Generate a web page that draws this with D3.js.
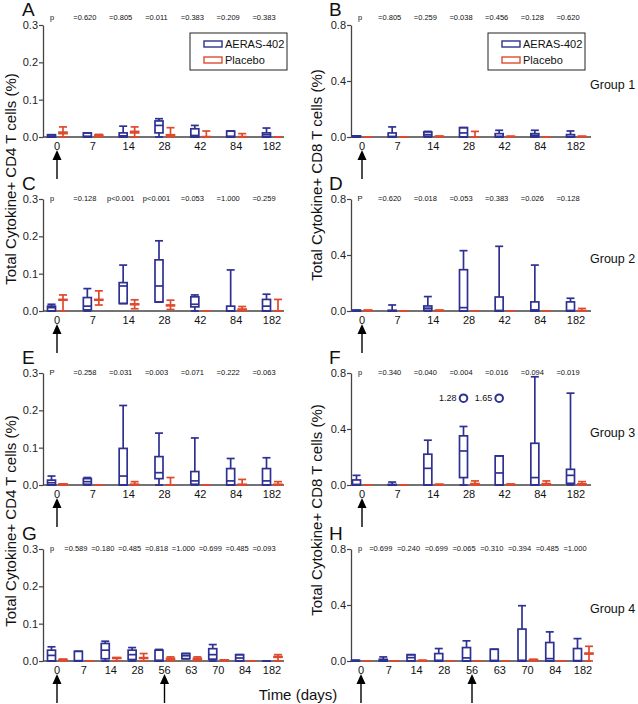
<!DOCTYPE html>
<html>
<head>
<meta charset="utf-8">
<script src="https://cdn.jsdelivr.net/npm/d3@7"></script>
<style>
  body { margin: 0; background: #fff; }
  svg text { font-family: "Liberation Sans", Arial, sans-serif; fill: #111; }
</style>
</head>
<body>
<div id="chart"></div>
<script>
// ========== data ==========
const daysShort = [0, 7, 14, 28, 42, 84, 182];
const daysLong = [0, 7, 14, 28, 56, 63, 70, 84, 182];
const ticksCD4 = [0, 0.1, 0.2, 0.3];
const ticksCD8 = [0, 0.4, 0.8];
const groupLabels = ['Group 1', 'Group 2', 'Group 3', 'Group 4'];
const seriesNames = ['AERAS-402', 'Placebo'];
const vaccineDays = [[0], [0], [0], [0], [0], [0], [0, 56], [0, 56]];

// box stats per day: [min, q1, median, q3, max]
const aBlue = [[0,0,0.002,0.006,0.006],[0,0,0.002,0.011,0.011],[0,0,0.003,0.011,0.029],[0,0.011,0.031,0.043,0.049],[0,0,0.004,0.022,0.031],[0,0,0.002,0.016,0.016],[0,0,0.006,0.011,0.024]];
const aRed  = [[0,0.009,0.011,0.013,0.027],[0,0.003,0.004,0.005,0.007],[0,0.011,0.013,0.015,0.027],[0,0.004,0.005,0.006,0.025],[0,0,0,0.001,0.016],[0,0,0,0.001,0.009],[0,0,0,0,0]];
const bBlue = [[0,0,0.002,0.008,0.008],[0,0,0.004,0.029,0.072],[0,0.005,0.017,0.036,0.040],[0,0,0.029,0.067,0.067],[0,0,0.005,0.024,0.048],[0,0,0.012,0.024,0.048],[0,0,0.003,0.017,0.043]];
const bRed  = [[0,0,0,0,0],[0,0,0,0,0],[0,0,0.003,0.005,0.006],[0,0,0,0,0.040],[0,0,0.002,0.004,0.005],[0,0,0,0,0],[0,0,0.002,0.004,0.005]];
const cBlue = [[0,0,0.009,0.013,0.018],[0,0.003,0.013,0.036,0.060],[0.020,0.020,0.067,0.076,0.123],[0.024,0.024,0.067,0.137,0.188],[0,0.011,0.018,0.038,0.043],[0,0,0,0.013,0.110],[0,0,0.013,0.031,0.045]];
const cRed  = [[0,0.029,0.030,0.031,0.043],[0.016,0.029,0.030,0.031,0.054],[0.006,0.017,0.018,0.019,0.030],[0.004,0.014,0.015,0.016,0.029],[0,0,0,0,0],[0,0.003,0.004,0.005,0.012],[0,0,0,0,0.031]];
const dBlue = [[0,0,0.002,0.006,0.006],[0,0,0.002,0.005,0.043],[0,0.005,0.020,0.036,0.103],[0,0,0.024,0.295,0.431],[0,0,0.004,0.100,0.462],[0,0,0.008,0.065,0.328],[0,0,0.004,0.065,0.091]];
const dRed  = [[0,0,0.002,0.005,0.006],[0,0,0,0,0],[0,0,0.002,0.005,0.006],[0,0,0,0,0],[0,0,0,0,0],[0,0,0,0,0],[0,0,0,0.003,0.018]];
const eBlue = [[0,0,0.006,0.013,0.024],[0,0.002,0.009,0.017,0.020],[0,0,0.024,0.098,0.213],[0,0.017,0.033,0.076,0.139],[0,0.002,0.011,0.036,0.126],[0,0,0.011,0.044,0.071],[0,0,0.011,0.044,0.073]];
const eRed  = [[0,0,0.002,0.003,0.003],[0,0,0,0,0],[0,0,0.001,0.002,0.009],[0,0,0,0,0.020],[0,0,0,0,0],[0,0,0,0.002,0.015],[0,0,0,0.002,0.009]];
const fBlue = [[0,0,0.004,0.036,0.069],[0,0,0,0.004,0.021],[0,0,0.119,0.220,0.320],[0,0.053,0.243,0.351,0.418],[0,0,0.086,0.208,0.208],[0,0,0.053,0.298,0.773],[0,0.012,0.069,0.112,0.656]];
const fRed  = [[0,0,0,0,0],[0,0,0,0,0],[0,0,0.002,0.004,0.005],[0,0,0.005,0.010,0.029],[0,0,0.002,0.005,0.007],[0,0,0.005,0.010,0.029],[0,0,0.004,0.008,0.024]];
const gBlue = [[0,0,0.015,0.029,0.038],[0,0,0.001,0.026,0.026],[0,0.006,0.029,0.047,0.053],[0,0.004,0.017,0.029,0.036],[0,0,0.002,0.029,0.031],[0.006,0.006,0.014,0.020,0.020],[0,0.005,0.017,0.033,0.044],[0,0,0.008,0.017,0.017],[0,0,0,0,0]];
const gRed  = [[0,0.002,0.003,0.004,0.005],[0,0,0,0,0],[0,0.007,0.008,0.009,0.009],[0,0.007,0.008,0.009,0.020],[0,0.005,0.006,0.007,0.011],[0,0.005,0.006,0.007,0.011],[0,0.002,0.003,0.003,0.003],[0,0,0,0,0],[0,0.010,0.011,0.012,0.017]];
const hBlue = [[0,0,0.002,0.005,0.005],[0,0,0.003,0.012,0.029],[0,0,0.024,0.045,0.045],[0,0,0.005,0.053,0.089],[0,0,0.022,0.096,0.144],[0,0,0.004,0.084,0.084],[0,0,0.005,0.228,0.395],[0,0,0.017,0.132,0.208],[0,0,0.003,0.089,0.160]];
const hRed  = [[0,0,0,0,0],[0,0,0,0,0],[0,0,0.002,0.004,0.005],[0,0,0,0,0],[0,0,0,0,0],[0,0,0,0,0],[0,0.004,0.007,0.010,0.012],[0,0,0,0,0],[0,0.050,0.053,0.056,0.105]];

// off-scale values in panel F (day, value)
const fOutliers = [{ day: 28, value: 1.28 }, { day: 42, value: 1.65 }];

const pA = ['=0.620','=0.805','=0.011','=0.383','=0.209','=0.383'];
const pB = ['=0.805','=0.259','=0.038','=0.456','=0.128','=0.620'];
const pC = ['=0.128','p<0.001','p<0.001','=0.053','=1.000','=0.259'];
const pD = ['=0.620','=0.018','=0.053','=0.383','=0.026','=0.128'];
const pE = ['=0.258','=0.031','=0.003','=0.071','=0.222','=0.063'];
const pF = ['=0.340','=0.040','=0.004','=0.016','=0.094','=0.019'];
const pG = ['=0.589','=0.180','=0.485','=0.818','=1.000','=0.699','=0.485','=0.093'];
const pH = ['=0.699','=0.240','=0.699','=0.065','=0.310','=0.394','=0.485','=1.000'];
const pHead = ['p', 'p', 'p', 'P', 'P', 'p', 'p', 'p'];

// ========== layout ==========
const BLUE = '#2e3192', RED = '#dd4a2e', AXIS = '#444';
const colAxisX = [43, 351];
const colAxisEnd = [284, 591];
const colRange = [[57, 272], [362, 576]];
const rowTop = [25, 199, 373, 549];
const panelH = 112;

const panels = [
  { id: 'A', col: 0, row: 0, days: daysShort, blue: aBlue, red: aRed, p: pA, ticks: ticksCD4, max: 0.3, legend: true },
  { id: 'B', col: 1, row: 0, days: daysShort, blue: bBlue, red: bRed, p: pB, ticks: ticksCD8, max: 0.8, legend: true },
  { id: 'C', col: 0, row: 1, days: daysShort, blue: cBlue, red: cRed, p: pC, ticks: ticksCD4, max: 0.3 },
  { id: 'D', col: 1, row: 1, days: daysShort, blue: dBlue, red: dRed, p: pD, ticks: ticksCD8, max: 0.8 },
  { id: 'E', col: 0, row: 2, days: daysShort, blue: eBlue, red: eRed, p: pE, ticks: ticksCD4, max: 0.3 },
  { id: 'F', col: 1, row: 2, days: daysShort, blue: fBlue, red: fRed, p: pF, ticks: ticksCD8, max: 0.8, outliers: fOutliers },
  { id: 'G', col: 0, row: 3, days: daysLong, blue: gBlue, red: gRed, p: pG, ticks: ticksCD4, max: 0.3 },
  { id: 'H', col: 1, row: 3, days: daysLong, blue: hBlue, red: hRed, p: pH, ticks: ticksCD8, max: 0.8, range: [361, 583] }
];

const svg = d3.select('#chart').append('svg')
  .attr('width', 638).attr('height', 704);

panels.forEach((pn, pi) => {
  const top = rowTop[pn.row], bottom = top + panelH;
  const ax = colAxisX[pn.col];
  const g = svg.append('g');

  const x = d3.scalePoint().domain(pn.days).range(pn.range || colRange[pn.col]);
  const y = d3.scaleLinear().domain([0, pn.max]).range([bottom, top]);

  // y axis
  const yAxis = g.append('g')
    .attr('transform', `translate(${ax},0)`)
    .call(d3.axisLeft(y).tickValues(pn.ticks).tickFormat(d3.format('.1f')).tickSize(4).tickSizeOuter(0));
  yAxis.select('.domain').attr('stroke', AXIS).attr('stroke-width', 1.3);
  yAxis.selectAll('.tick line').attr('stroke', AXIS).attr('stroke-width', 1.2);
  yAxis.selectAll('.tick text').attr('font-size', 11).attr('x', -5).style('fill', '#222');

  // x axis
  g.append('line')
    .attr('x1', ax).attr('x2', colAxisEnd[pn.col])
    .attr('y1', bottom).attr('y2', bottom)
    .attr('stroke', AXIS).attr('stroke-width', 1.3);
  g.append('g').selectAll('text')
    .data(pn.days).enter().append('text')
    .attr('x', d => x(d)).attr('y', bottom + 13)
    .attr('text-anchor', 'middle').attr('font-size', 11)
    .text(d => d);

  // boxes
  const bw = 8;
  function drawBoxes(stats, color, offset) {
    const bg = g.append('g').attr('stroke', color).attr('fill', 'none').attr('stroke-width', 1.7);
    stats.forEach((s, i) => {
      const cx = x(pn.days[i]) + offset;
      const [mn, q1, md, q3, mx] = s.map(y);
      bg.append('line').attr('x1', cx).attr('x2', cx).attr('y1', mx).attr('y2', q3);
      bg.append('line').attr('x1', cx).attr('x2', cx).attr('y1', q1).attr('y2', mn);
      bg.append('line').attr('x1', cx - bw / 2).attr('x2', cx + bw / 2).attr('y1', mx).attr('y2', mx);
      bg.append('line').attr('x1', cx - bw / 2).attr('x2', cx + bw / 2).attr('y1', mn).attr('y2', mn);
      bg.append('rect').attr('x', cx - bw / 2).attr('width', bw)
        .attr('y', q3).attr('height', Math.max(0, q1 - q3));
      bg.append('line').attr('x1', cx - bw / 2).attr('x2', cx + bw / 2).attr('y1', md).attr('y2', md);
    });
  }
  drawBoxes(pn.blue, BLUE, -5.5);
  drawBoxes(pn.red, RED, 6);

  // off-scale outliers
  if (pn.outliers) {
    const shown = 0.62;
    pn.outliers.forEach(o => {
      const cx = x(o.day) - 5.5, cy = y(Math.min(o.value, shown));
      g.append('circle').attr('cx', cx).attr('cy', cy).attr('r', 3.8)
        .attr('fill', 'none').attr('stroke', BLUE).attr('stroke-width', 2);
      g.append('text').attr('x', cx - 7).attr('y', cy).attr('dy', '0.35em')
        .attr('text-anchor', 'end').attr('font-size', 9).text(o.value.toFixed(2));
    });
  }

  // p-values
  const py = pn.row === 0 ? top - 8 : top - 1;
  g.append('text').attr('x', ax + 9).attr('y', py).attr('dy', '0.35em')
    .attr('font-size', 7.5).attr('text-anchor', 'middle').text(pHead[pi]);
  g.append('g').selectAll('text')
    .data(pn.p).enter().append('text')
    .attr('x', (d, i) => x(pn.days[i + 1]) - 8).attr('y', py).attr('dy', '0.35em')
    .attr('font-size', 7.5).attr('text-anchor', 'middle')
    .text(d => d);

  // vaccination arrows
  vaccineDays[pi].forEach(day => {
    const axx = x(day), tip = bottom + 13;
    g.append('line').attr('x1', axx).attr('x2', axx).attr('y1', tip + 8).attr('y2', tip + 29)
      .attr('stroke', '#000').attr('stroke-width', 1.4);
    g.append('path')
      .attr('d', `M${axx},${tip} L${axx - 4.5},${tip + 10} L${axx + 4.5},${tip + 10} Z`)
      .attr('fill', '#000');
  });

  // panel letter
  g.append('text')
    .attr('x', pn.col === 0 ? 22 : 329).attr('y', top - 9)
    .attr('font-size', 19).text(pn.id);

  // group label
  if (pn.col === 1) {
    g.append('text').attr('x', 590).attr('y', top + panelH * 0.53).attr('dy', '0.35em')
      .attr('font-size', 12.5).text(groupLabels[pn.row]);
  }

  // legend
  if (pn.legend) {
    const lx = pn.col === 0 ? 190 : 488, ly = 33;
    const lg = g.append('g').attr('transform', `translate(${lx},${ly})`);
    lg.append('rect').attr('width', 97).attr('height', 37)
      .attr('fill', '#fff').attr('stroke', '#222').attr('stroke-width', 1);
    seriesNames.forEach((name, i) => {
      lg.append('rect').attr('x', 14).attr('y', 8 + i * 16).attr('width', 18).attr('height', 6)
        .attr('fill', 'none').attr('stroke', i === 0 ? BLUE : RED).attr('stroke-width', 1.4);
      lg.append('text').attr('x', 35).attr('y', 11 + i * 16).attr('dy', '0.35em')
        .attr('font-size', 11).text(name);
    });
  }
});

// axis titles
const titles = [
  { text: 'Total Cytokine+ CD4 T cells (%)', x: 11, y: 179 },
  { text: 'Total Cytokine+ CD4 T cells (%)', x: 11, y: 521 },
  { text: 'Total Cytokine+ CD8 T cells (%)', x: 317, y: 175 },
  { text: 'Total Cytokine+ CD8 T cells (%)', x: 317, y: 510 }
];
svg.append('g').selectAll('text')
  .data(titles).enter().append('text')
  .attr('transform', d => `translate(${d.x},${d.y}) rotate(-90)`)
  .attr('text-anchor', 'middle').attr('dy', '0.35em')
  .attr('font-size', 15).text(d => d.text);

svg.append('text')
  .attr('x', 298).attr('y', 700)
  .attr('text-anchor', 'middle').attr('font-size', 15)
  .text('Time (days)');
</script>
</body>
</html>
